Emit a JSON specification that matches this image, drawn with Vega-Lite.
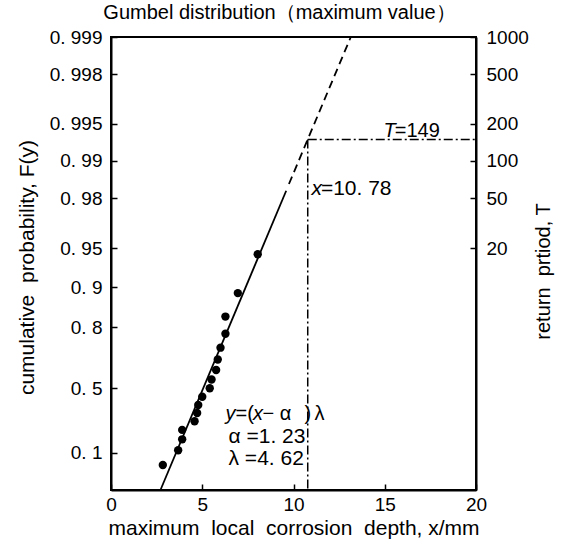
{
  "$schema": "https://vega.github.io/schema/vega-lite/v6.json",
  "width": 365,
  "height": 453,
  "autosize": "none",
  "padding": {"left": 111, "top": 37, "right": 85, "bottom": 51},
  "background": "white",
  "config": {
    "font": "Liberation Sans",
    "view": {"stroke": "black", "strokeWidth": 2},
    "axis": {
      "grid": false,
      "domainColor": "black",
      "domainWidth": 2,
      "tickColor": "black",
      "tickWidth": 1.5,
      "tickSize": -6,
      "labelFont": "Liberation Sans",
      "labelFontSize": 19,
      "labelColor": "black",
      "titleFont": "Liberation Sans",
      "titleFontSize": 21,
      "titleFontWeight": "normal",
      "titleColor": "black"
    },
    "text": {"font": "Liberation Sans", "fontSize": 21, "color": "black", "align": "left", "baseline": "alphabetic"}
  },
  "title": {
    "text": "Gumbel distribution（maximum value）",
    "fontSize": 20,
    "fontWeight": "normal",
    "font": "Liberation Sans",
    "color": "black",
    "frame": "group",
    "anchor": "middle",
    "dx": -14,
    "offset": 5
  },
  "datasets": {
    "points": [
      {"x": 2.84, "y": -1.0614},
      {"x": 3.68, "y": -0.7872},
      {"x": 3.90, "y": -0.5832},
      {"x": 3.90, "y": -0.4082},
      {"x": 4.58, "y": -0.2476},
      {"x": 4.72, "y": -0.0940},
      {"x": 4.78, "y": 0.0571},
      {"x": 5.00, "y": 0.2096},
      {"x": 5.41, "y": 0.3665},
      {"x": 5.51, "y": 0.5314},
      {"x": 5.76, "y": 0.7083},
      {"x": 5.85, "y": 0.9027},
      {"x": 6.00, "y": 1.1226},
      {"x": 6.27, "y": 1.3811},
      {"x": 6.27, "y": 1.7020},
      {"x": 6.95, "y": 2.1389},
      {"x": 8.04, "y": 2.8619}
    ],
    "fitSolid": [
      {"x": 2.71, "y": -1.527},
      {"x": 9.6, "y": 4.045}
    ],
    "fitDashed": [
      {"x": 9.75, "y": 4.17},
      {"x": 13.14, "y": 6.907}
    ],
    "guideH": [
      {"x": 10.78, "y": 5.0},
      {"x": 20, "y": 5.0}
    ],
    "guideV": [
      {"x": 10.78, "y": 5.0},
      {"x": 10.78, "y": -1.527}
    ],
    "one": [{"k": 1}]
  },
  "resolve": {"axis": {"x": "independent", "y": "independent"}},
  "layer": [
    {
      "data": {"name": "points"},
      "mark": {"type": "circle", "size": 70, "color": "black", "opacity": 1},
      "encoding": {
        "x": {
          "field": "x", "type": "quantitative",
          "scale": {"domain": [0, 20], "nice": false, "zero": false},
          "axis": {
            "orient": "bottom",
            "title": "maximum \u00a0local \u00a0corrosion \u00a0depth, x/mm",
            "values": [0, 5, 10, 15, 20],
            "labelPadding": 11,
            "titlePadding": 3,
            "labelFlush": false
          }
        },
        "y": {
          "field": "y", "type": "quantitative",
          "scale": {"domain": [-1.527, 6.907255], "nice": false, "zero": false},
          "axis": {
            "orient": "left",
            "title": "cumulative \u00a0probability, F(y)",
            "titleY": 230,
            "values": [-0.834032, 0.366513, 1.49994, 2.250367, 2.970195, 3.901939, 4.600149, 5.295812, 6.213607, 6.907255],
            "labelExpr": "datum.value < 0 ? '0. 1' : datum.value < 1 ? '0. 5' : datum.value < 2 ? '0. 8' : datum.value < 2.6 ? '0. 9' : datum.value < 3.5 ? '0. 95' : datum.value < 4.3 ? '0. 98' : datum.value < 5 ? '0. 99' : datum.value < 6 ? '0. 995' : datum.value < 6.5 ? '0. 998' : '0. 999'",
            "labelPadding": 15,
            "labelFlush": false,
            "titlePadding": 12
          }
        }
      }
    },
    {
      "data": {"name": "points"},
      "mark": {"type": "circle", "size": 1, "opacity": 0},
      "encoding": {
        "x": {"field": "x", "type": "quantitative", "scale": {"domain": [0, 20], "nice": false, "zero": false}, "axis": null},
        "y": {
          "field": "y", "type": "quantitative",
          "scale": {"domain": [-1.527, 6.907255], "nice": false, "zero": false},
          "axis": {
            "orient": "right",
            "title": "return \u00a0prtiod, T",
            "titleAngle": 270,
            "titleY": 234,
            "titleFontSize": 20,
            "values": [2.970195, 3.901939, 4.600149, 5.295812, 6.213607, 6.907255],
            "labelExpr": "datum.value < 3.5 ? '20' : datum.value < 4.3 ? '50' : datum.value < 5 ? '100' : datum.value < 6 ? '200' : datum.value < 6.5 ? '500' : '1000'",
            "labelPadding": 16,
            "labelFlush": false,
            "titlePadding": 25
          }
        }
      }
    },
    {
      "data": {"name": "fitSolid"},
      "mark": {"type": "line", "color": "black", "strokeWidth": 1.8},
      "encoding": {
        "x": {"field": "x", "type": "quantitative", "scale": {"domain": [0, 20], "nice": false, "zero": false}, "axis": null},
        "y": {"field": "y", "type": "quantitative", "scale": {"domain": [-1.527, 6.907255], "nice": false, "zero": false}, "axis": null}
      }
    },
    {
      "data": {"name": "fitDashed"},
      "mark": {"type": "line", "color": "black", "strokeWidth": 1.8, "strokeDash": [8, 5]},
      "encoding": {
        "x": {"field": "x", "type": "quantitative", "scale": {"domain": [0, 20], "nice": false, "zero": false}, "axis": null},
        "y": {"field": "y", "type": "quantitative", "scale": {"domain": [-1.527, 6.907255], "nice": false, "zero": false}, "axis": null}
      }
    },
    {
      "data": {"name": "guideH"},
      "mark": {"type": "line", "color": "black", "strokeWidth": 1.5, "strokeDash": [9, 3, 2, 3]},
      "encoding": {
        "x": {"field": "x", "type": "quantitative", "scale": {"domain": [0, 20], "nice": false, "zero": false}, "axis": null},
        "y": {"field": "y", "type": "quantitative", "scale": {"domain": [-1.527, 6.907255], "nice": false, "zero": false}, "axis": null}
      }
    },
    {
      "data": {"name": "guideV"},
      "mark": {"type": "line", "color": "black", "strokeWidth": 1.5, "strokeDash": [9, 3, 2, 3]},
      "encoding": {
        "x": {"field": "x", "type": "quantitative", "scale": {"domain": [0, 20], "nice": false, "zero": false}, "axis": null},
        "y": {"field": "y", "type": "quantitative", "scale": {"domain": [-1.527, 6.907255], "nice": false, "zero": false}, "axis": null}
      }
    },
    {
      "data": {"name": "one"},
      "mark": {"type": "text", "text": "T", "fontStyle": "italic", "fontSize": 20},
      "encoding": {
        "x": {"datum": 14.93, "type": "quantitative", "scale": {"domain": [0, 20], "nice": false, "zero": false}, "axis": null},
        "y": {"datum": 5.053, "type": "quantitative", "scale": {"domain": [-1.527, 6.907255], "nice": false, "zero": false}, "axis": null}
      }
    },
    {
      "data": {"name": "one"},
      "mark": {"type": "text", "text": "=149", "fontSize": 20},
      "encoding": {
        "x": {"datum": 15.55, "type": "quantitative", "scale": {"domain": [0, 20], "nice": false, "zero": false}, "axis": null},
        "y": {"datum": 5.053, "type": "quantitative", "scale": {"domain": [-1.527, 6.907255], "nice": false, "zero": false}, "axis": null}
      }
    },
    {
      "data": {"name": "one"},
      "mark": {"type": "text", "text": "x", "fontStyle": "italic"},
      "encoding": {
        "x": {"datum": 10.99, "type": "quantitative", "scale": {"domain": [0, 20], "nice": false, "zero": false}, "axis": null},
        "y": {"datum": 3.974, "type": "quantitative", "scale": {"domain": [-1.527, 6.907255], "nice": false, "zero": false}, "axis": null}
      }
    },
    {
      "data": {"name": "one"},
      "mark": {"type": "text", "text": "=10. 78"},
      "encoding": {
        "x": {"datum": 11.5, "type": "quantitative", "scale": {"domain": [0, 20], "nice": false, "zero": false}, "axis": null},
        "y": {"datum": 3.974, "type": "quantitative", "scale": {"domain": [-1.527, 6.907255], "nice": false, "zero": false}, "axis": null}
      }
    },
    {
      "data": {"name": "one"},
      "mark": {"type": "text", "text": "y", "fontStyle": "italic", "fontSize": 20},
      "encoding": {
        "x": {"datum": 6.27, "type": "quantitative", "scale": {"domain": [0, 20], "nice": false, "zero": false}, "axis": null},
        "y": {"datum": -0.226, "type": "quantitative", "scale": {"domain": [-1.527, 6.907255], "nice": false, "zero": false}, "axis": null}
      }
    },
    {
      "data": {"name": "one"},
      "mark": {"type": "text", "text": "=(", "fontSize": 20},
      "encoding": {
        "x": {"datum": 6.82, "type": "quantitative", "scale": {"domain": [0, 20], "nice": false, "zero": false}, "axis": null},
        "y": {"datum": -0.226, "type": "quantitative", "scale": {"domain": [-1.527, 6.907255], "nice": false, "zero": false}, "axis": null}
      }
    },
    {
      "data": {"name": "one"},
      "mark": {"type": "text", "text": "x", "fontStyle": "italic", "fontSize": 20},
      "encoding": {
        "x": {"datum": 7.78, "type": "quantitative", "scale": {"domain": [0, 20], "nice": false, "zero": false}, "axis": null},
        "y": {"datum": -0.226, "type": "quantitative", "scale": {"domain": [-1.527, 6.907255], "nice": false, "zero": false}, "axis": null}
      }
    },
    {
      "data": {"name": "one"},
      "mark": {"type": "text", "text": "− α", "fontSize": 20},
      "encoding": {
        "x": {"datum": 8.3, "type": "quantitative", "scale": {"domain": [0, 20], "nice": false, "zero": false}, "axis": null},
        "y": {"datum": -0.226, "type": "quantitative", "scale": {"domain": [-1.527, 6.907255], "nice": false, "zero": false}, "axis": null}
      }
    },
    {
      "data": {"name": "one"},
      "mark": {"type": "text", "text": ")", "fontSize": 20},
      "encoding": {
        "x": {"datum": 10.6, "type": "quantitative", "scale": {"domain": [0, 20], "nice": false, "zero": false}, "axis": null},
        "y": {"datum": -0.226, "type": "quantitative", "scale": {"domain": [-1.527, 6.907255], "nice": false, "zero": false}, "axis": null}
      }
    },
    {
      "data": {"name": "one"},
      "mark": {"type": "text", "text": "λ", "fontSize": 20},
      "encoding": {
        "x": {"datum": 11.15, "type": "quantitative", "scale": {"domain": [0, 20], "nice": false, "zero": false}, "axis": null},
        "y": {"datum": -0.226, "type": "quantitative", "scale": {"domain": [-1.527, 6.907255], "nice": false, "zero": false}, "axis": null}
      }
    },
    {
      "data": {"name": "one"},
      "mark": {"type": "text", "text": "α =1. 23"},
      "encoding": {
        "x": {"datum": 6.44, "type": "quantitative", "scale": {"domain": [0, 20], "nice": false, "zero": false}, "axis": null},
        "y": {"datum": -0.654, "type": "quantitative", "scale": {"domain": [-1.527, 6.907255], "nice": false, "zero": false}, "axis": null}
      }
    },
    {
      "data": {"name": "one"},
      "mark": {"type": "text", "text": "λ =4. 62"},
      "encoding": {
        "x": {"datum": 6.44, "type": "quantitative", "scale": {"domain": [0, 20], "nice": false, "zero": false}, "axis": null},
        "y": {"datum": -1.063, "type": "quantitative", "scale": {"domain": [-1.527, 6.907255], "nice": false, "zero": false}, "axis": null}
      }
    }
  ]
}
